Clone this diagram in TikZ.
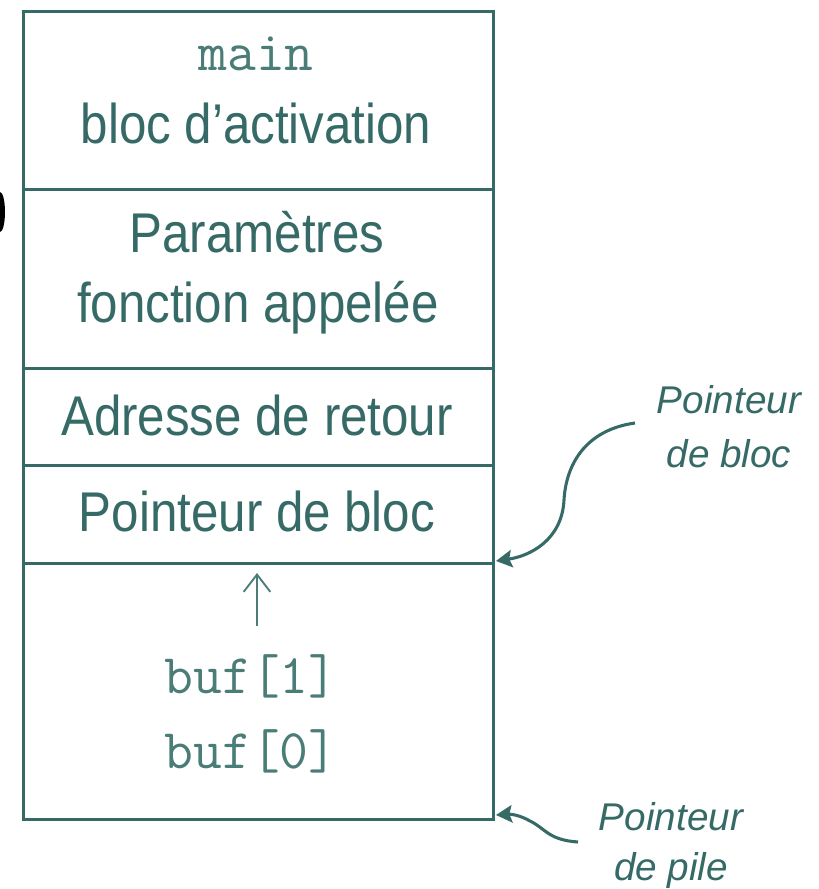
\documentclass[tikz,border=0pt]{standalone}
\usepackage{fontspec}
\usetikzlibrary{arrows.meta}
\newfontfamily\cellfont{Liberation Sans}[FakeStretch=0.88]
\newfontfamily\notefont{Liberation Sans}
\definecolor{stackteal}{HTML}{356A66}
\definecolor{codeteal}{HTML}{4A7C78}
\tikzset{
  cell/.style={draw=stackteal, line width=2.3pt, rectangle, inner sep=0pt,
    minimum width=352.5pt, anchor=north west},
  celltext/.style={text=stackteal, anchor=base, inner sep=0pt,
    font=\cellfont\fontsize{42}{50}\selectfont},
  codetext/.style={text=codeteal, anchor=base, inner sep=0pt,
    font=\ttfamily\fontsize{42}{50}\selectfont},
  notetext/.style={text=stackteal, anchor=base, inner sep=0pt,
    font=\notefont\itshape\fontsize{29}{36}\selectfont},
  pointer/.style={draw=stackteal, line width=2.3pt,
    -{Stealth[length=12pt,width=13pt,inset=2pt]}},
  growth/.style={draw=codeteal, line width=1.4pt,
    -{Straight Barb[length=13pt,width=20pt]}},
}
\begin{document}
\begin{tikzpicture}[x=0.75pt,y=-0.75pt]
  \useasboundingbox (0,0) rectangle (818,889);
  \fill[white] (0,0) rectangle (818,889);

  % stack frame cells, top to bottom
  \node[cell, minimum height=133.5pt]  (mainblk) at (22,10)  {};
  \node[cell, minimum height=134.25pt] (params)  at (22,188) {};
  \node[cell, minimum height=72.75pt]  (retaddr) at (22,367) {};
  \node[cell, minimum height=73.5pt]   (frameptr) at (22,464) {};
  \node[cell, minimum height=192pt]    (locals)  at (22,562) {};

  % cell contents
  \node[codetext] (tmain)  at (256,70)  {main};
  \node[celltext] (tact)   at (256,143) {bloc d’activation};
  \node[celltext] (tpar)   at (257,252) {Paramètres};
  \node[celltext] (tfun)   at (258,322) {fonction appelée};
  \node[celltext] (tret)   at (257,435) {Adresse de retour};
  \node[celltext] (tfp)    at (257,531) {Pointeur de bloc};
  \node[codetext] (tbuf1)  at (251,693) {buf[1]};
  \node[codetext] (tbuf0)  at (251,768) {buf[0]};

  % growth direction of the local buffer
  \coordinate (growlow)  at (257,626);
  \coordinate (growhigh) at (257,573);
  \draw[growth] (growlow) -- (growhigh);

  % pointer labels
  \node[notetext] (fpname1) at (729,413) {Pointeur};
  \node[notetext] (fpname2) at (729,467) {de bloc};
  \node[notetext] (spname1) at (671,830) {Pointeur};
  \node[notetext] (spname2) at (671,880) {de pile};

  % pointer arrows
  \coordinate (fpstart) at (635,423);
  \coordinate (fptarget) at (496,561);
  \coordinate (spstart) at (578,842);
  \coordinate (sptarget) at (496,815);
  \draw[pointer] (fpstart) .. controls (585,430) and (566,465) .. (564,500)
                 .. controls (562,540) and (530,556) .. (fptarget);
  \draw[pointer] (spstart) .. controls (548,840) and (545,828) .. (530,821)
                 .. controls (520,815) and (510,814) .. (sptarget);

  % edge of a glyph cut off at the left border
  \fill[black] (0,212) ellipse [x radius=5, y radius=20];
\end{tikzpicture}
\end{document}
